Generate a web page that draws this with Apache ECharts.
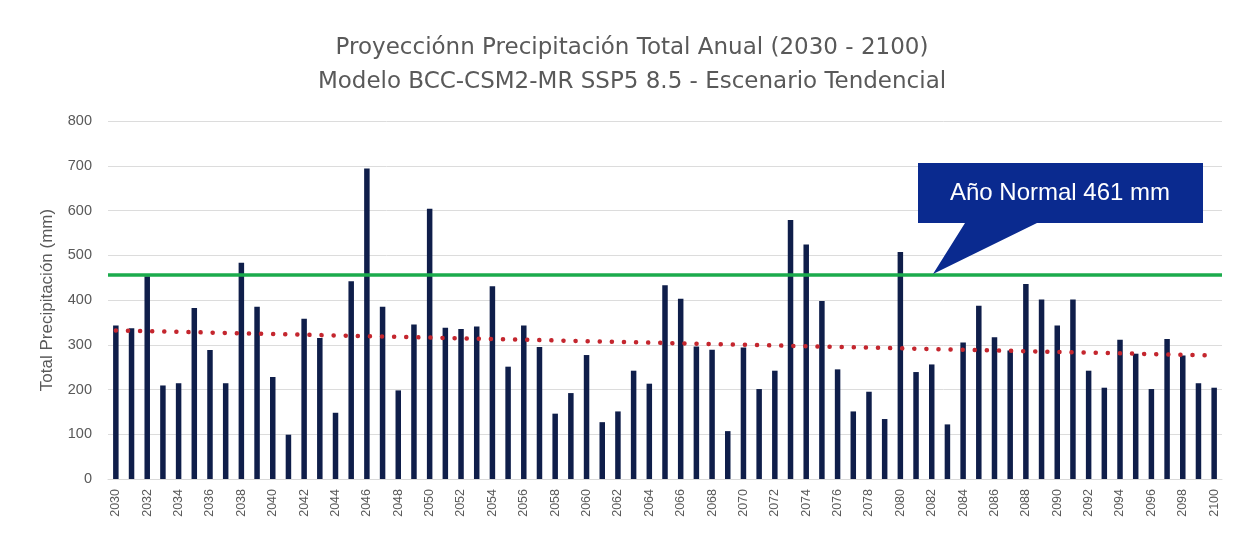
<!DOCTYPE html>
<html>
<head>
<meta charset="utf-8">
<script src="https://cdn.jsdelivr.net/npm/echarts@6/dist/echarts.min.js"></script>
<style>
  html, body { margin: 0; padding: 0; background: #fff; }
  #chart { width: 1235px; height: 533px; }
</style>
</head>
<body>
<div id="chart"></div>
<script>
// años de la proyección
const years = [
  '2030', '2031', '2032', '2033', '2034', '2035', '2036', '2037', '2038', '2039',
  '2040', '2041', '2042', '2043', '2044', '2045', '2046', '2047', '2048', '2049',
  '2050', '2051', '2052', '2053', '2054', '2055', '2056', '2057', '2058', '2059',
  '2060', '2061', '2062', '2063', '2064', '2065', '2066', '2067', '2068', '2069',
  '2070', '2071', '2072', '2073', '2074', '2075', '2076', '2077', '2078', '2079',
  '2080', '2081', '2082', '2083', '2084', '2085', '2086', '2087', '2088', '2089',
  '2090', '2091', '2092', '2093', '2094', '2095', '2096', '2097', '2098', '2099',
  '2100'
]
// precipitación total anual (mm)
const precip = [
  343, 337, 453, 209, 214, 382, 288, 214, 483, 385,
  228, 99, 358, 315, 148, 442, 694, 385, 198, 345,
  604, 338, 335, 341, 431, 251, 343, 295, 146, 192,
  277, 127, 151, 242, 213, 433, 403, 296, 289, 107,
  294, 201, 242, 579, 524, 398, 245, 151, 195, 134,
  507, 239, 256, 122, 305, 387, 317, 287, 436, 401,
  343, 401, 242, 204, 311, 280, 201, 313, 276, 214,
  204
]
// línea de año normal y extremos de la tendencia lineal
const normalLine = 456
const normalLabel = 'Año Normal 461 mm'
const trendStart = 332
const trendEnd = 276
const yTicks = [0, 100, 200, 300, 400, 500, 600, 700, 800]

const chart = echarts.init(document.getElementById('chart'))
const grey = '#595959'

const option = {
  animation: false,
  backgroundColor: '#fff',
  title: {
    text: 'Proyecciónn Precipitación Total Anual (2030 - 2100)\nModelo BCC-CSM2-MR SSP5 8.5 - Escenario Tendencial',
    left: 627,
    top: 26,
    textAlign: 'center',
    textStyle: {
      fontFamily: 'DejaVu Sans',
      fontSize: 23,
      fontWeight: 'normal',
      color: grey,
      lineHeight: 34
    }
  },
  grid: { left: 108, right: 13, top: 121, bottom: 54 },
  xAxis: {
    type: 'category',
    data: years,
    axisLine: { lineStyle: { color: '#d9d9d9' } },
    axisTick: { show: false },
    axisLabel: {
      interval: 1,
      rotate: 90,
      color: grey,
      fontSize: 12.5,
      fontFamily: 'Liberation Sans',
      margin: 10
    }
  },
  yAxis: {
    type: 'value',
    min: yTicks[0],
    max: yTicks[yTicks.length - 1],
    interval: 100,
    name: 'Total Precipitación (mm)',
    nameLocation: 'middle',
    nameGap: 52,
    nameTextStyle: { color: grey, fontSize: 17, fontFamily: 'Liberation Sans' },
    axisLine: { show: false },
    axisTick: { show: false },
    axisLabel: { color: grey, fontSize: 14.5, fontFamily: 'Liberation Sans', margin: 16 },
    splitLine: { lineStyle: { color: '#dcdcdc', width: 1 } }
  },
  series: [
    {
      type: 'bar',
      data: precip,
      barWidth: 5.5,
      itemStyle: { color: '#0f1e4a' },
      markLine: {
        silent: true,
        symbol: 'none',
        label: { show: false },
        data: [
          {
            yAxis: normalLine,
            lineStyle: { color: '#1bab4c', width: 3.5, type: 'solid' }
          },
          [
            {
              coord: [years[0], trendStart],
              lineStyle: { color: '#c4262e', width: 4.5, type: [0.1, 12], cap: 'round' }
            },
            { coord: [years[years.length - 1], trendEnd] }
          ]
        ]
      }
    }
  ],
  graphic: [
    {
      type: 'polygon',
      shape: {
        points: [[918, 163], [1203, 163], [1203, 223], [1037, 223], [933, 274], [965, 223], [918, 223]]
      },
      style: { fill: '#0a2a8f' },
      z: 10
    },
    {
      type: 'text',
      x: 1060,
      y: 193,
      style: {
        text: normalLabel,
        fill: '#fff',
        fontSize: 24,
        fontFamily: 'Liberation Sans',
        align: 'center',
        verticalAlign: 'middle'
      },
      z: 11
    }
  ]
}

chart.setOption(option)
</script>
</body>
</html>
